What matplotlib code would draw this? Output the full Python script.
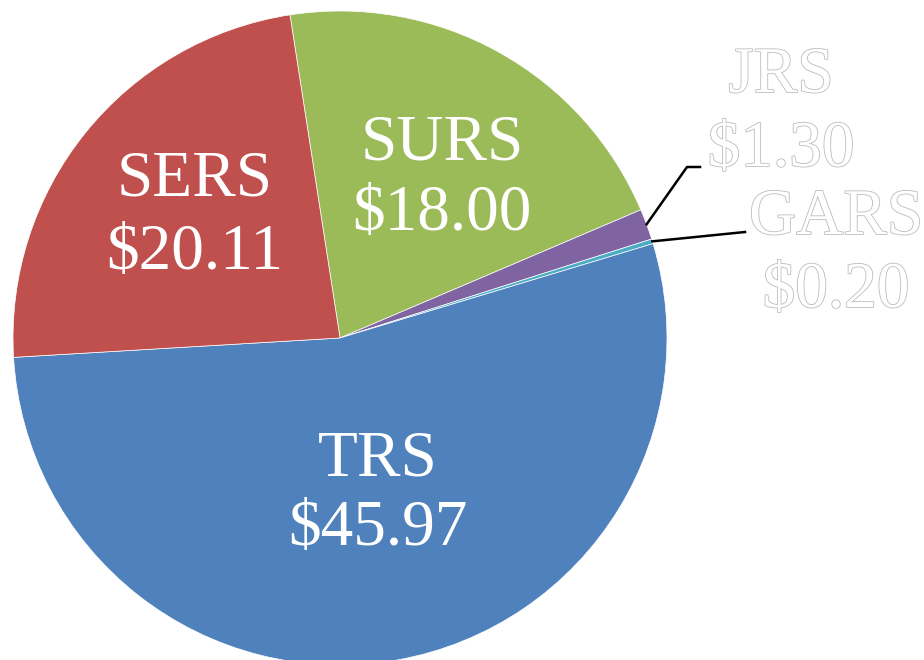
import matplotlib
matplotlib.use("Agg")
import matplotlib.pyplot as plt
import matplotlib.patheffects as pe
import numpy as np

# values (billions), clockwise from the top
names = ['SURS', 'JRS', 'GARS', 'TRS', 'SERS']
values = [18.00, 1.30, 0.20, 45.97, 20.11]
colors = ['#9BBB59', '#8064A2', '#4BACC6', '#4F81BD', '#C0504D']

fig = plt.figure(figsize=(9.24, 6.6), dpi=100)
ax = fig.add_axes([0, 0, 1, 1])

cx, cy, r = 340, 322, 327
wedges, _ = ax.pie(values, colors=colors, startangle=98.8, counterclock=False,
                   center=(cx, cy), radius=r, frame=True,
                   wedgeprops=dict(linewidth=0.5, edgecolor='white'))
ax.set_xlim(0, 924)
ax.set_ylim(0, 660)
ax.set_aspect('equal')
ax.axis('off')

serif = 'Liberation Serif'
fs = 47

# labels inside the big slices: x, name baseline, value baseline
inside = {'SURS': (442, 500, 430), 'SERS': (195, 465, 391), 'TRS': (378, 185, 115)}
for n, v in zip(names, values):
    if n in inside:
        x, y1, y2 = inside[n]
        ax.text(x, y1, n, color='white', fontsize=fs, family=serif,
                ha='center', va='baseline')
        ax.text(x, y2, '$%.2f' % v, color='white', fontsize=fs, family=serif,
                ha='center', va='baseline')

# outlined labels for the small slices, with leader lines
outline = [pe.Stroke(linewidth=1.2, foreground='#bcbcbc'), pe.Normal()]
outer = {'JRS': (781, 568, 494, [(687, 493), (700, 493)]),
         'GARS': (836, 426, 353, [(745, 428)])}
for i, n in enumerate(names):
    if n not in outer:
        continue
    w = wedges[i]
    mid = np.deg2rad((w.theta1 + w.theta2) / 2)
    x0, y0 = cx + r * np.cos(mid), cy + r * np.sin(mid)
    tx, y1, y2, pts = outer[n]
    xs = [x0] + [p[0] for p in pts]
    ys = [y0] + [p[1] for p in pts]
    ax.plot(xs, ys, color='black', linewidth=1.8)
    ax.text(tx, y1, n, color='white', fontsize=fs, family=serif,
            ha='center', va='baseline', path_effects=outline)
    ax.text(tx, y2, '$%.2f' % values[i], color='white', fontsize=fs,
            family=serif, ha='center', va='baseline', path_effects=outline)

fig.savefig('out.png', dpi=100, facecolor='white')
